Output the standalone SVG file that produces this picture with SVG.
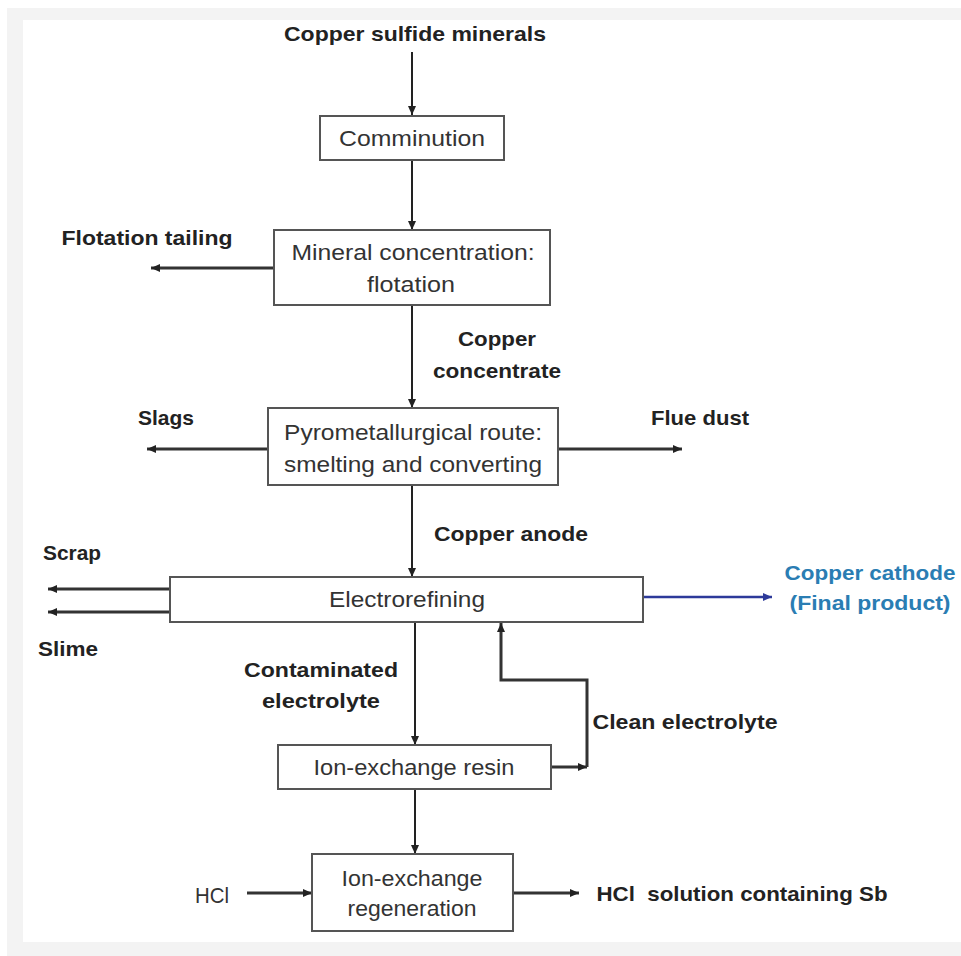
<svg xmlns="http://www.w3.org/2000/svg" width="961" height="956" viewBox="0 0 961 956">
<style>
.box{fill:#fff;stroke:#555;stroke-width:2}
.t{font-family:"Liberation Sans",Arial,sans-serif;font-size:22px;fill:#333;text-anchor:middle}
.b{font-family:"Liberation Sans",Arial,sans-serif;font-size:21px;font-weight:bold;fill:#222;text-anchor:middle}
.bl{font-family:"Liberation Sans",Arial,sans-serif;font-size:21px;font-weight:bold;fill:#2a7db3;text-anchor:middle}
.ln{fill:none;stroke:#222;stroke-width:2}
.th{fill:none;stroke:#333;stroke-width:3}
</style>
<defs>
<marker id="ah" markerWidth="9" markerHeight="8" refX="9" refY="4" orient="auto" markerUnits="userSpaceOnUse"><path d="M0,0 L9,4 L0,8 Z" fill="#222"/></marker>
<marker id="ahb" markerWidth="9" markerHeight="8" refX="9" refY="4" orient="auto" markerUnits="userSpaceOnUse"><path d="M0,0 L9,4 L0,8 Z" fill="#2d3a9a"/></marker>
</defs>
<rect x="0" y="0" width="961" height="956" fill="#fff"/>
<rect x="7" y="8" width="954" height="948" fill="#f3f3f3"/>
<rect x="23" y="20" width="938" height="922" fill="#fff"/>

<g id="connectors">
<line class="ln" x1="412" y1="52" x2="412" y2="115" marker-end="url(#ah)"/>
<line class="ln" x1="412" y1="160" x2="412" y2="230" marker-end="url(#ah)"/>
<line class="th" x1="274" y1="268" x2="151" y2="268" marker-end="url(#ah)"/>
<line class="ln" x1="412" y1="305" x2="412" y2="408" marker-end="url(#ah)"/>
<line class="th" x1="268" y1="449" x2="147" y2="449" marker-end="url(#ah)"/>
<line class="th" x1="558" y1="449" x2="682" y2="449" marker-end="url(#ah)"/>
<line class="ln" x1="412" y1="485" x2="412" y2="577" marker-end="url(#ah)"/>
<line class="th" x1="170" y1="589" x2="48" y2="589" marker-end="url(#ah)"/>
<line class="th" x1="170" y1="612" x2="48" y2="612" marker-end="url(#ah)"/>
<line x1="643" y1="597" x2="772" y2="597" stroke="#2d3a9a" stroke-width="2.5" marker-end="url(#ahb)"/>
<line class="ln" x1="415" y1="622" x2="415" y2="745" marker-end="url(#ah)"/>
<line class="th" x1="551" y1="767" x2="587" y2="767" marker-end="url(#ah)"/>
<polyline class="th" points="587,767 587,680 501,680 501,623" marker-end="url(#ah)"/>
<line class="ln" x1="415" y1="789" x2="415" y2="854" marker-end="url(#ah)"/>
<line class="th" x1="247" y1="893" x2="312" y2="893" marker-end="url(#ah)"/>
<line class="th" x1="513" y1="893" x2="579" y2="893" marker-end="url(#ah)"/>
</g>

<g id="copper-sulfide-minerals"><text class="b" x="415" y="41" textLength="262" lengthAdjust="spacingAndGlyphs">Copper sulfide minerals</text></g>

<g id="comminution">
<rect class="box" x="320" y="116" width="184" height="44"/>
<text class="t" x="412" y="146" textLength="146" lengthAdjust="spacingAndGlyphs">Comminution</text>
</g>

<g id="flotation">
<rect class="box" x="274" y="230" width="276" height="75"/>
<text class="t" x="413" y="260" textLength="243" lengthAdjust="spacingAndGlyphs">Mineral concentration:</text>
<text class="t" x="411" y="292" textLength="88" lengthAdjust="spacingAndGlyphs">flotation</text>
</g>
<g id="flotation-tailing"><text class="b" x="147" y="245" textLength="171" lengthAdjust="spacingAndGlyphs">Flotation tailing</text></g>

<g id="copper-concentrate">
<text class="b" x="497" y="346" textLength="78" lengthAdjust="spacingAndGlyphs">Copper</text>
<text class="b" x="497" y="378" textLength="128" lengthAdjust="spacingAndGlyphs">concentrate</text>
</g>

<g id="pyrometallurgical">
<rect class="box" x="268" y="408" width="290" height="77"/>
<text class="t" x="413" y="440" textLength="258" lengthAdjust="spacingAndGlyphs">Pyrometallurgical route:</text>
<text class="t" x="413" y="472" textLength="258" lengthAdjust="spacingAndGlyphs">smelting and converting</text>
</g>
<g id="slags"><text class="b" x="166" y="425" textLength="56" lengthAdjust="spacingAndGlyphs">Slags</text></g>
<g id="flue-dust"><text class="b" x="700" y="425" textLength="98" lengthAdjust="spacingAndGlyphs">Flue dust</text></g>

<g id="copper-anode"><text class="b" x="511" y="541" textLength="154" lengthAdjust="spacingAndGlyphs">Copper anode</text></g>

<g id="electrorefining">
<rect class="box" x="170" y="577" width="473" height="45"/>
<text class="t" x="407" y="607" textLength="156" lengthAdjust="spacingAndGlyphs">Electrorefining</text>
</g>
<g id="scrap"><text class="b" x="72" y="560" textLength="58" lengthAdjust="spacingAndGlyphs">Scrap</text></g>
<g id="slime"><text class="b" x="68" y="656" textLength="60" lengthAdjust="spacingAndGlyphs">Slime</text></g>

<g id="copper-cathode">
<text class="bl" x="870" y="580" textLength="171" lengthAdjust="spacingAndGlyphs">Copper cathode</text>
<text class="bl" x="870" y="610" textLength="161" lengthAdjust="spacingAndGlyphs">(Final product)</text>
</g>

<g id="contaminated-electrolyte">
<text class="b" x="321" y="677" textLength="154" lengthAdjust="spacingAndGlyphs">Contaminated</text>
<text class="b" x="321" y="708" textLength="118" lengthAdjust="spacingAndGlyphs">electrolyte</text>
</g>
<g id="clean-electrolyte"><text class="b" x="685" y="729" textLength="185" lengthAdjust="spacingAndGlyphs">Clean electrolyte</text></g>

<g id="ion-exchange-resin">
<rect class="box" x="278" y="745" width="273" height="44"/>
<text class="t" x="414" y="775" textLength="201" lengthAdjust="spacingAndGlyphs">Ion-exchange resin</text>
</g>

<g id="ion-exchange-regeneration">
<rect class="box" x="312" y="854" width="201" height="77"/>
<text class="t" x="412" y="886" textLength="141" lengthAdjust="spacingAndGlyphs">Ion-exchange</text>
<text class="t" x="412" y="916" textLength="129" lengthAdjust="spacingAndGlyphs">regeneration</text>
</g>
<g id="hcl"><text class="t" x="212" y="903" textLength="34" lengthAdjust="spacingAndGlyphs">HCl</text></g>
<g id="hcl-solution"><text class="b" x="742" y="901" textLength="291" lengthAdjust="spacingAndGlyphs" xml:space="preserve">HCl  solution containing Sb</text></g>
</svg>
